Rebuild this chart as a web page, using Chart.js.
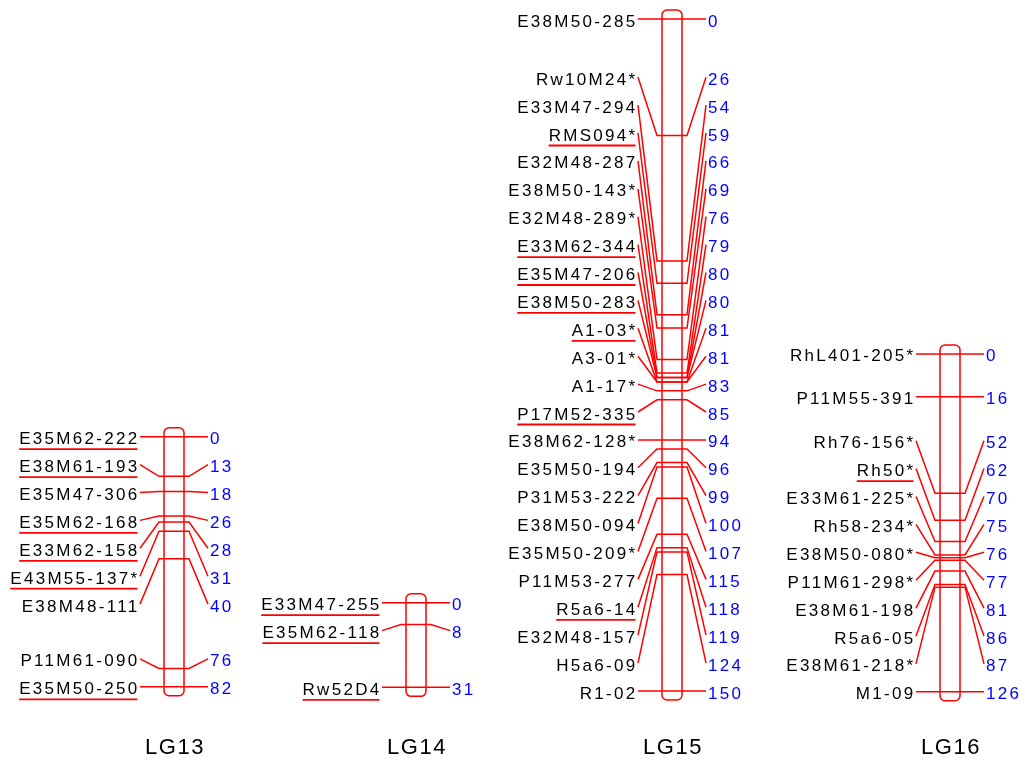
<!DOCTYPE html>
<html>
<head>
<meta charset="utf-8">
<title>Linkage groups LG13 - LG16</title>
<script src="https://cdn.jsdelivr.net/npm/chart.js@4.4.1/dist/chart.umd.min.js"></script>
<style>
  body { margin: 0; background: #fff; }
</style>
</head>
<body>
<canvas id="map" width="1025" height="760"></canvas>
<script>
const groupNames = ['LG13', 'LG14', 'LG15', 'LG16'];

const lg13Markers = ['E35M62-222', 'E38M61-193', 'E35M47-306', 'E35M62-168', 'E33M62-158',
    'E43M55-137*', 'E38M48-111', 'P11M61-090', 'E35M50-250'];
const lg13Positions = [0, 13, 18, 26, 28, 31, 40, 76, 82];
const lg13Underlined = [1, 1, 0, 1, 1, 1, 0, 0, 1];

const lg14Markers = ['E33M47-255', 'E35M62-118', 'Rw52D4'];
const lg14Positions = [0, 8, 31];
const lg14Underlined = [1, 1, 1];

const lg15Markers = ['E38M50-285', 'Rw10M24*', 'E33M47-294', 'RMS094*', 'E32M48-287', 'E38M50-143*',
    'E32M48-289*', 'E33M62-344', 'E35M47-206', 'E38M50-283', 'A1-03*', 'A3-01*', 'A1-17*',
    'P17M52-335', 'E38M62-128*', 'E35M50-194', 'P31M53-222', 'E38M50-094', 'E35M50-209*',
    'P11M53-277', 'R5a6-14', 'E32M48-157', 'H5a6-09', 'R1-02'];
const lg15Positions = [0, 26, 54, 59, 66, 69, 76, 79, 80, 80, 81, 81, 83, 85, 94, 96, 99, 100,
    107, 115, 118, 119, 124, 150];
const lg15Underlined = [0, 0, 0, 1, 0, 0, 0, 1, 1, 1, 1, 0, 0, 1, 0, 0, 0, 0, 0, 0, 1, 0, 0, 0];

const lg16Markers = ['RhL401-205*', 'P11M55-391', 'Rh76-156*', 'Rh50*', 'E33M61-225*', 'Rh58-234*',
    'E38M50-080*', 'P11M61-298*', 'E38M61-198', 'R5a6-05', 'E38M61-218*', 'M1-09'];
const lg16Positions = [0, 16, 52, 62, 70, 75, 76, 77, 81, 86, 87, 126];
const lg16Underlined = [0, 0, 0, 1, 0, 0, 0, 0, 0, 0, 0, 0];

const markers = [lg13Markers, lg14Markers, lg15Markers, lg16Markers];
const positions = [lg13Positions, lg14Positions, lg15Positions, lg16Positions];
const underlined = [lg13Underlined, lg14Underlined, lg15Underlined, lg16Underlined];

// layout: where each group sits across the page, and the cM window shown by its axis
const groupX = [174, 416, 672, 950];
const axisWindows = [[-136.95, 83.38], [-213.8, 32.34], [0, 150], [-125, 125.75]];

// labels that would collide are pushed apart, clusters centred on their markers
function spreadLabels(ys, gap) {
    const top = ys[0], bottom = ys[ys.length - 1];
    const place = c => {
        let start = c.sum / c.n - (c.n - 1) * gap / 2;
        c.start = Math.max(top, Math.min(start, bottom - (c.n - 1) * gap));
    };
    const clusters = ys.map(y => ({ n: 1, sum: y }));
    clusters.forEach(place);
    let merged = true;
    while (merged) {
        merged = false;
        for (let i = 0; i < clusters.length - 1; i++) {
            const a = clusters[i], b = clusters[i + 1];
            if (a.start + a.n * gap > b.start + 0.5) {
                a.n += b.n;
                a.sum += b.sum;
                place(a);
                clusters.splice(i + 1, 1);
                merged = true;
                break;
            }
        }
    }
    const out = [];
    clusters.forEach(c => { for (let k = 0; k < c.n; k++) out.push(c.start + k * gap); });
    return out;
}

const linkageMap = {
    id: 'linkageMap',
    afterDatasetsDraw(chart) {
        const ctx = chart.ctx;
        ctx.save();
        chart.data.datasets.forEach((ds, g) => {
            const pts = chart.getDatasetMeta(g).data;
            const ticks = pts.map(p => p.y);
            const cx = pts[0].x;
            const labelYs = spreadLabels(ticks, 27.9);

            ctx.strokeStyle = '#ff0000';
            ctx.lineWidth = 1.5;
            // chromosome bar
            const top = ticks[0] - 9, bottom = ticks[ticks.length - 1] + 9;
            ctx.beginPath();
            ctx.roundRect(cx - 10, top, 20, bottom - top, 5);
            ctx.stroke();

            ctx.font = '17px "Liberation Sans", Arial, sans-serif';
            ctx.letterSpacing = '2.3px';
            ctx.textBaseline = 'alphabetic';
            pts.forEach((p, i) => {
                const ly = labelYs[i];
                ctx.strokeStyle = '#ff0000';
                ctx.lineWidth = 1.5;
                ctx.beginPath();
                ctx.moveTo(cx - 34, ly);
                ctx.lineTo(cx - 15, p.y);
                ctx.lineTo(cx + 15, p.y);
                ctx.lineTo(cx + 34, ly);
                ctx.stroke();

                const name = ds.markerNames[i];
                ctx.fillStyle = '#000000';
                ctx.textAlign = 'right';
                ctx.fillText(name, cx - 34.5, ly + 7.5);
                if (ds.underlined[i]) {
                    const w = ctx.measureText(name).width;
                    ctx.lineWidth = 1.8;
                    ctx.beginPath();
                    ctx.moveTo(cx - 34.5 - w, ly + 12.5);
                    ctx.lineTo(cx - 36.5, ly + 12.5);
                    ctx.stroke();
                }
                ctx.fillStyle = '#0000ff';
                ctx.textAlign = 'left';
                ctx.fillText(String(ds.data[i].y), cx + 36, ly + 7.5);
            });

            ctx.font = '22px "Liberation Sans", Arial, sans-serif';
            ctx.letterSpacing = '1.5px';
            ctx.fillStyle = '#000000';
            ctx.textAlign = 'center';
            ctx.fillText(groupNames[g], cx + 1, 754);
        });
        ctx.restore();
    }
};

const scales = {
    x: { type: 'linear', min: 0, max: 1025, display: false }
};
groupNames.forEach((name, g) => {
    scales['y' + g] = {
        type: 'linear', reverse: true, display: false,
        min: axisWindows[g][0], max: axisWindows[g][1]
    };
});

new Chart(document.getElementById('map'), {
    type: 'scatter',
    data: {
        datasets: groupNames.map((name, g) => ({
            label: name,
            yAxisID: 'y' + g,
            data: positions[g].map(cM => ({ x: groupX[g], y: cM })),
            markerNames: markers[g],
            underlined: underlined[g],
            pointRadius: 0,
            showLine: false
        }))
    },
    options: {
        responsive: false,
        animation: false,
        events: [],
        layout: { padding: { top: 19, bottom: 69, left: 0, right: 0 } },
        scales: scales,
        plugins: { legend: { display: false }, tooltip: { enabled: false } }
    },
    plugins: [linkageMap]
});
</script>
</body>
</html>
